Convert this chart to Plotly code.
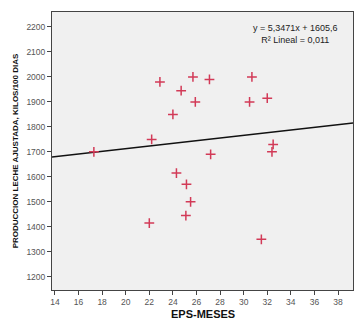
import plotly.graph_objects as go

eps_meses = [17.3, 22.2, 22.9, 24.7, 24.0, 25.7, 27.1, 30.7, 25.9, 30.5,
             32.0, 32.5, 32.4, 27.2, 24.3, 25.15, 25.5, 25.1, 22.0, 31.5]
produccion = [1700, 1750, 1980, 1945, 1850, 2000, 1990, 2000, 1900, 1900,
              1915, 1730, 1700, 1690, 1615, 1570, 1500, 1445, 1415, 1350]

slope = 5.3471
intercept = 1605.6
x_range = [13.75, 39.27]
y_range = [1147, 2260]
x_ticks = list(range(14, 40, 2))
y_ticks = list(range(1200, 2201, 100))

fit_x = x_range
fit_y = [slope * v + intercept for v in fit_x]

fig = go.Figure()
fig.add_trace(go.Scatter(
    x=fit_x, y=fit_y, mode="lines",
    line=dict(color="#111111", width=1.5), hoverinfo="skip", showlegend=False))
fig.add_trace(go.Scatter(
    x=eps_meses, y=produccion, mode="markers",
    marker=dict(symbol="cross-thin", size=7, line=dict(color="#D23A57", width=1.5)),
    showlegend=False))

fig.add_annotation(
    x=0.958, y=0.968, xref="paper", yref="paper", xanchor="right", yanchor="top",
    text="y = 5,3471x + 1605,6<br>R² Lineal = 0,011", showarrow=False, align="center",
    font=dict(family="Liberation Sans, Arial", size=9, color="#222222"))

fig.add_annotation(
    x=0.5, y=-0.088, xref="paper", yref="paper", xanchor="center", yanchor="middle",
    text="<b>EPS-MESES</b>", showarrow=False,
    font=dict(family="Liberation Sans, Arial", size=11, color="#111111"))

axis_common = dict(
    showline=True, linecolor="#444444", linewidth=1, mirror=True,
    ticks="outside", ticklen=4, tickcolor="#444444", tickwidth=1,
    showgrid=False, zeroline=False,
    tickfont=dict(family="Liberation Sans, Arial", size=8.5, color="#555555"))

fig.update_layout(
    width=362, height=321,
    margin=dict(l=44, r=17, t=4, b=39),
    paper_bgcolor="white", plot_bgcolor="#F0F0F0",
    xaxis=dict(range=x_range, tickvals=x_ticks, **axis_common),
    yaxis=dict(range=y_range, tickvals=y_ticks,
               title=dict(text="<b>PRODUCCION LECHE AJUSTADA, KILOS/100 DIAS</b>", standoff=6,
                          font=dict(family="Liberation Sans, Arial", size=8, color="#111111")),
               **axis_common),
)

fig.write_html("out.html")
